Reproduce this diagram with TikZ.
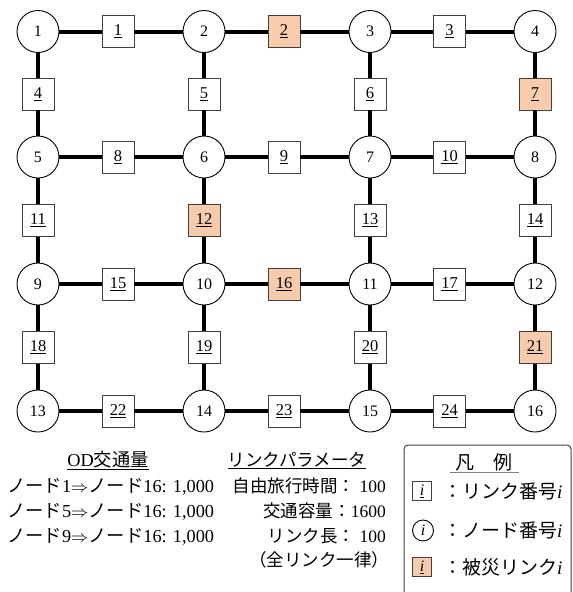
\documentclass[tikz,border=0pt]{standalone}
\usepackage{fontspec}
\setmainfont{Liberation Serif}
\newfontfamily\jp{Noto Sans CJK JP}
\definecolor{dmg}{HTML}{F8CBAD}
\definecolor{bordergray}{HTML}{404040}
\begin{document}
\begin{tikzpicture}[x=1pt,y=-1pt,
  nodec/.style={circle,draw,line width=0.9pt,fill=white,minimum size=42pt,inner sep=0pt,font=\fontsize{16}{18}\selectfont},
  linkbox/.style={rectangle,draw=bordergray,line width=0.9pt,fill=white,minimum size=32pt,inner sep=0pt,font=\fontsize{16.5}{18}\selectfont},
  dmgbox/.style={linkbox,fill=dmg},
  road/.style={line width=4pt},
  txt/.style={font=\fontsize{17.5}{20}\selectfont,inner sep=0pt},
  odtxt/.style={font=\fontsize{18.3}{20}\selectfont,inner sep=0pt},
  lgtxt/.style={font=\fontsize{19}{21}\selectfont,inner sep=0pt},
  lgbox/.style={rectangle,draw=bordergray,line width=0.9pt,fill=white,minimum size=19pt,inner sep=0pt,font=\fontsize{16}{18}\selectfont},
  lgdmg/.style={lgbox,fill=dmg},
  lgcirc/.style={circle,draw,line width=0.9pt,fill=white,minimum size=21pt,inner sep=0pt,font=\fontsize{16}{18}\selectfont}
]
\useasboundingbox (0,0) rectangle (573,592);

% nodes
\node[nodec] (n1)  at (38,31.5) {1};
\node[nodec] (n2)  at (204,31.5) {2};
\node[nodec] (n3)  at (370,31.5) {3};
\node[nodec] (n4)  at (535,31.5) {4};
\node[nodec] (n5)  at (38,157) {5};
\node[nodec] (n6)  at (204,157) {6};
\node[nodec] (n7)  at (370,157) {7};
\node[nodec] (n8)  at (535,157) {8};
\node[nodec] (n9)  at (38,284) {9};
\node[nodec] (n10) at (204,284) {10};
\node[nodec] (n11) at (370,284) {11};
\node[nodec] (n12) at (535,284) {12};
\node[nodec] (n13) at (38,411) {13};
\node[nodec] (n14) at (204,411) {14};
\node[nodec] (n15) at (370,411) {15};
\node[nodec] (n16) at (535,411) {16};

% links (horizontal)
\node[linkbox] (l1)  at (118,31.5) {\underline{1}};
\node[dmgbox]  (l2)  at (284,31.5) {\underline{2}};
\node[linkbox] (l3)  at (449.5,31.5) {\underline{3}};
\node[linkbox] (l8)  at (118,157) {\underline{8}};
\node[linkbox] (l9)  at (284,157) {\underline{9}};
\node[linkbox] (l10) at (449.5,157) {\underline{10}};
\node[linkbox] (l15) at (118,284) {\underline{15}};
\node[dmgbox]  (l16) at (284,284) {\underline{16}};
\node[linkbox] (l17) at (449.5,284) {\underline{17}};
\node[linkbox] (l22) at (118,411) {\underline{22}};
\node[linkbox] (l23) at (284,411) {\underline{23}};
\node[linkbox] (l24) at (449.5,411) {\underline{24}};
% links (vertical)
\node[linkbox] (l4)  at (38,94) {\underline{4}};
\node[linkbox] (l5)  at (204,94) {\underline{5}};
\node[linkbox] (l6)  at (370,94) {\underline{6}};
\node[dmgbox]  (l7)  at (535,94) {\underline{7}};
\node[linkbox] (l11) at (38,220.5) {\underline{11}};
\node[dmgbox]  (l12) at (204,220.5) {\underline{12}};
\node[linkbox] (l13) at (370,220.5) {\underline{13}};
\node[linkbox] (l14) at (535,220.5) {\underline{14}};
\node[linkbox] (l18) at (38,347.5) {\underline{18}};
\node[linkbox] (l19) at (204,347.5) {\underline{19}};
\node[linkbox] (l20) at (370,347.5) {\underline{20}};
\node[dmgbox]  (l21) at (535,347.5) {\underline{21}};

% roads
\draw[road] (n1) -- (l1) (l1) -- (n2);
\draw[road] (n2) -- (l2) (l2) -- (n3);
\draw[road] (n3) -- (l3) (l3) -- (n4);
\draw[road] (n5) -- (l8) (l8) -- (n6);
\draw[road] (n6) -- (l9) (l9) -- (n7);
\draw[road] (n7) -- (l10) (l10) -- (n8);
\draw[road] (n9) -- (l15) (l15) -- (n10);
\draw[road] (n10) -- (l16) (l16) -- (n11);
\draw[road] (n11) -- (l17) (l17) -- (n12);
\draw[road] (n13) -- (l22) (l22) -- (n14);
\draw[road] (n14) -- (l23) (l23) -- (n15);
\draw[road] (n15) -- (l24) (l24) -- (n16);
\draw[road] (n1) -- (l4) (l4) -- (n5);
\draw[road] (n2) -- (l5) (l5) -- (n6);
\draw[road] (n3) -- (l6) (l6) -- (n7);
\draw[road] (n4) -- (l7) (l7) -- (n8);
\draw[road] (n5) -- (l11) (l11) -- (n9);
\draw[road] (n6) -- (l12) (l12) -- (n10);
\draw[road] (n7) -- (l13) (l13) -- (n11);
\draw[road] (n8) -- (l14) (l14) -- (n12);
\draw[road] (n9) -- (l18) (l18) -- (n13);
\draw[road] (n10) -- (l19) (l19) -- (n14);
\draw[road] (n11) -- (l20) (l20) -- (n15);
\draw[road] (n12) -- (l21) (l21) -- (n16);

% OD text
\node[odtxt,anchor=base] (odt) at (108,466.5) {\underline{OD{\jp 交通量}}};
\node[odtxt,anchor=base west] (od1) at (7,492) {{\jp ノード}1$\Rightarrow${\jp ノード}16: 1,000};
\node[odtxt,anchor=base west] (od2) at (7,517) {{\jp ノード}5$\Rightarrow${\jp ノード}16: 1,000};
\node[odtxt,anchor=base west] (od3) at (7,542) {{\jp ノード}9$\Rightarrow${\jp ノード}16: 1,000};

% link parameters
\node[txt,anchor=base] (lpt) at (297,466.5) {\underline{\jp リンクパラメータ}};
\node[txt,anchor=base east] (lp1) at (386,492) {{\jp 自由旅行時間：}\ 100};
\node[txt,anchor=base east] (lp2) at (386,517) {{\jp 交通容量：}1600};
\node[txt,anchor=base east] (lp3) at (386,542) {{\jp リンク長：}\ 100};
\node[txt,anchor=base] (lp4) at (319,566) {\jp （全リンク一律）};

% legend
\draw[bordergray,line width=1pt,rounded corners=4pt] (404,610) -- (404,445) -- (571,445) -- (571,610);
\node[lgtxt,anchor=base] (lgt) at (484,469) {\jp 凡\hspace{1em}例};
\draw[gray,line width=1.2pt] (450,472.5) -- (519,472.5);
\node[lgbox] (lg1) at (422,491) {\underline{\textit{i}}};
\node[lgtxt,anchor=west] (lg1t) at (443,491) {{\jp ：リンク番号}\textit{i}};
\node[lgcirc] (lg2) at (423,530.5) {\textit{i}};
\node[lgtxt,anchor=west] (lg2t) at (443,530.5) {{\jp ：ノード番号}\textit{i}};
\node[lgdmg] (lg3) at (422,567) {\underline{\textit{i}}};
\node[lgtxt,anchor=west] (lg3t) at (443,567) {{\jp ：被災リンク}\textit{i}};
\end{tikzpicture}
\end{document}
